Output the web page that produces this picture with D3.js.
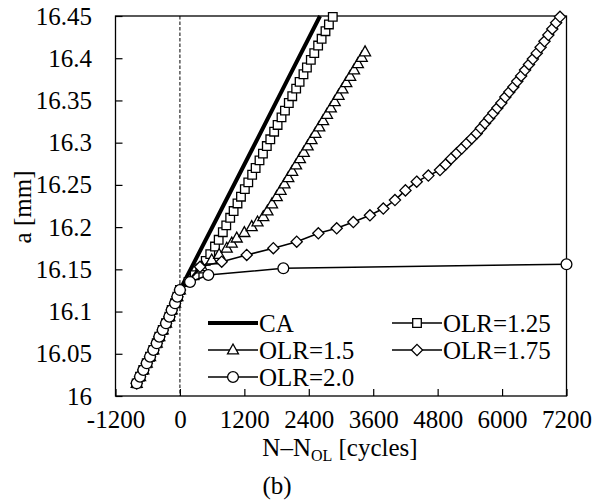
<!DOCTYPE html>
<html><head><meta charset="utf-8">
<script src="https://cdn.jsdelivr.net/npm/d3@7"></script>
<style>
body{margin:0;background:#fff}
svg{display:block}
text{font-family:"Liberation Serif","Times New Roman",Times,serif;fill:#000}
</style>
</head><body>
<svg id="chart" width="603" height="500"></svg>
<script>
// ---------- data ----------
const xTicks = [-1200, 0, 1200, 2400, 3600, 4800, 6000, 7200];
const xTickLabels = ["-1200", "0", "1200", "2400", "3600", "4800", "6000", "7200"];
const yTicks = [16, 16.05, 16.1, 16.15, 16.2, 16.25, 16.3, 16.35, 16.4, 16.45];
const yTickLabels = ["16", "16.05", "16.1", "16.15", "16.2", "16.25", "16.3", "16.35", "16.4", "16.45"];

// shared pre-overload growth [cycles, a(mm)]
const preOverload = [[-805,16.015],[-743,16.0229],[-682,16.0308],[-618,16.0387],[-557,16.0465],
  [-495,16.0545],[-432,16.0624],[-384,16.0702],[-320,16.0782],[-259,16.0861],[-197,16.0939],
  [-153,16.1018],[-91,16.1098],[-48,16.1176],[0,16.1255]];

const caData = [[0,16.1255],[700,16.212],[1400,16.299],[2000,16.374],[2610,16.45]];

const olr125 = [[160,16.135],[275,16.143],[379,16.151],[481,16.160],[565,16.168],[653,16.177],
  [722,16.185],[799,16.194],[863,16.202],[936,16.211],[1000,16.219],[1072,16.228],[1137,16.236],
  [1209,16.245],[1273,16.253],[1345,16.262],[1410,16.270],[1482,16.279],[1546,16.287],[1618,16.296],
  [1683,16.304],[1755,16.313],[1819,16.321],[1892,16.330],[1956,16.338],[2028,16.347],[2092,16.355],
  [2165,16.364],[2229,16.372],[2301,16.381],[2365,16.389],[2438,16.398],[2502,16.406],[2574,16.415],
  [2639,16.423],[2711,16.432],[2775,16.440],[2847,16.449]];

const olr15 = [[406,16.153],[592,16.161],[730,16.1675],[872,16.175],[965,16.181],[1058,16.187],
  [1200,16.1935],[1337,16.2005],[1445,16.206],[1553,16.2123],[1630,16.219],[1715,16.2275],[1803,16.236],
  [1875,16.2435],[1947,16.251],[2019,16.2585],[2091,16.266],[2163,16.2735],[2235,16.281],[2307,16.2885],
  [2379,16.296],[2451,16.3035],[2523,16.311],[2595,16.3185],[2667,16.326],[2739,16.3335],[2811,16.341],
  [2883,16.3485],[2955,16.356],[3027,16.3635],[3099,16.371],[3171,16.3785],[3243,16.386],[3315,16.3935],
  [3387,16.401],[3448,16.4075]];

const olr175 = [[374,16.153],[778,16.159],[1244,16.167],[1740,16.175],[2175,16.1827],[2578,16.1927],
  [2920,16.1986],[3230,16.206],[3539,16.214],[3788,16.222],[4005,16.232],[4200,16.2435],[4410,16.2538],
  [4627,16.261],[4844,16.2676],[4948,16.274],[5051,16.281],[5155,16.2874],[5248,16.293],[5341,16.299],
  [5435,16.305],[5528,16.311],[5605,16.317],[5682,16.323],[5760,16.329],[5837,16.335],[5912,16.341],
  [5986,16.347],[6061,16.354],[6135,16.360],[6210,16.366],[6283,16.3726],[6355,16.379],[6428,16.386],
  [6501,16.3926],[6573,16.399],[6646,16.406],[6718,16.413],[6790,16.420],[6862,16.4275],[6935,16.4347],
  [7007,16.442],[7079,16.449]];

const olr20 = [[188,16.135],[529,16.1433],[1926,16.1512],[7200,16.156]];

const seriesNames = ["CA", "OLR=1.25", "OLR=1.5", "OLR=1.75", "OLR=2.0"];
const seriesMarkers = ["none", "square", "triangle", "diamond", "circle"];

// ---------- layout ----------
const svg = d3.select("#chart");
const L = 115.5, R = 566.5, T = 16, B = 396;
const x = d3.scaleLinear().domain([-1200, 7200]).range([L, R]);
const y = d3.scaleLinear().domain([16, 16.45]).range([B, T]);

const markerPath = {
  square: "M-4.3,-4.3H4.3V4.3H-4.3Z",
  triangle: "M0,-6L5.5,3.9L-5.5,3.9Z",
  diamond: "M0,-5.6L5.6,0L0,5.6L-5.6,0Z",
  circle: d3.arc()({innerRadius:0, outerRadius:5.4, startAngle:0, endAngle:2*Math.PI})
};

// dashed zero line
svg.append("line").attr("x1", x(0)).attr("x2", x(0)).attr("y1", T).attr("y2", B)
  .attr("stroke", "#000").attr("stroke-width", 1).attr("stroke-dasharray", "3.5,2");

// axes
const gy = svg.append("g").attr("transform", `translate(${L},0)`)
  .call(d3.axisLeft(y).tickValues(yTicks).tickFormat((d,i) => yTickLabels[i]).tickSize(-7).tickPadding(23.5));
const gx = svg.append("g").attr("transform", `translate(0,${B})`)
  .call(d3.axisBottom(x).tickValues(xTicks).tickFormat((d,i) => xTickLabels[i]).tickSize(-7).tickPadding(14));
[gx, gy].forEach(g => {
  g.select(".domain").remove();
  g.selectAll(".tick line").attr("stroke", "#000").attr("stroke-width", 1.2);
  g.selectAll(".tick text").attr("font-size", 25).attr("font-family", '"Liberation Serif","Times New Roman",serif').attr("fill", "#000");
});

// frame
svg.append("rect").attr("x", L).attr("y", T).attr("width", R - L).attr("height", B - T)
  .attr("fill", "none").attr("stroke", "#000").attr("stroke-width", 1.3);

// series
const line = d3.line().x(d => x(d[0])).y(d => y(d[1]));
svg.append("path").datum(preOverload.concat(caData.slice(1)))
  .attr("d", line).attr("fill", "none").attr("stroke", "#000").attr("stroke-width", 4);

const markerSeries = [[olr125, "square"], [olr15, "triangle"], [olr175, "diamond"], [olr20, "circle"]];
markerSeries.forEach(([data, m]) => {
  const all = preOverload.concat(data);
  svg.append("path").datum(all).attr("d", line).attr("fill", "none")
    .attr("stroke", "#000").attr("stroke-width", 1.5);
  svg.append("g").selectAll("path").data(all).join("path")
    .attr("transform", d => `translate(${x(d[0])},${y(d[1])})`)
    .attr("d", markerPath[m]).attr("fill", "#fff").attr("stroke", "#000").attr("stroke-width", 1.3);
});

// legend
const legendPos = [[208, 323], [392, 323], [208, 350], [392, 350], [208, 377]];
seriesNames.forEach((name, i) => {
  const [lx, ly] = legendPos[i];
  const g = svg.append("g");
  g.append("line").attr("x1", lx).attr("x2", lx + 50).attr("y1", ly).attr("y2", ly)
    .attr("stroke", "#000").attr("stroke-width", i === 0 ? 4 : 1.5);
  if (seriesMarkers[i] !== "none") {
    g.append("path").attr("transform", `translate(${lx + 25},${ly})`).attr("d", markerPath[seriesMarkers[i]])
      .attr("fill", "#fff").attr("stroke", "#000").attr("stroke-width", 1.3);
  }
  g.append("text").attr("x", lx + 51).attr("y", ly + 8.5).attr("font-size", 25).text(name);
});

// axis titles
svg.append("text").attr("transform", `translate(31,207) rotate(-90)`).attr("text-anchor", "middle")
  .attr("font-size", 25).text("a [mm]");
const xt = svg.append("text").attr("x", 340).attr("y", 456).attr("text-anchor", "middle").attr("font-size", 25);
xt.append("tspan").text("N\u2013N");
xt.append("tspan").attr("font-size", 16).attr("dy", 5).text("OL");
xt.append("tspan").attr("dy", -5).text(" [cycles]");
svg.append("text").attr("x", 277).attr("y", 494).attr("text-anchor", "middle").attr("font-size", 25).text("(b)");
</script>
</body></html>
